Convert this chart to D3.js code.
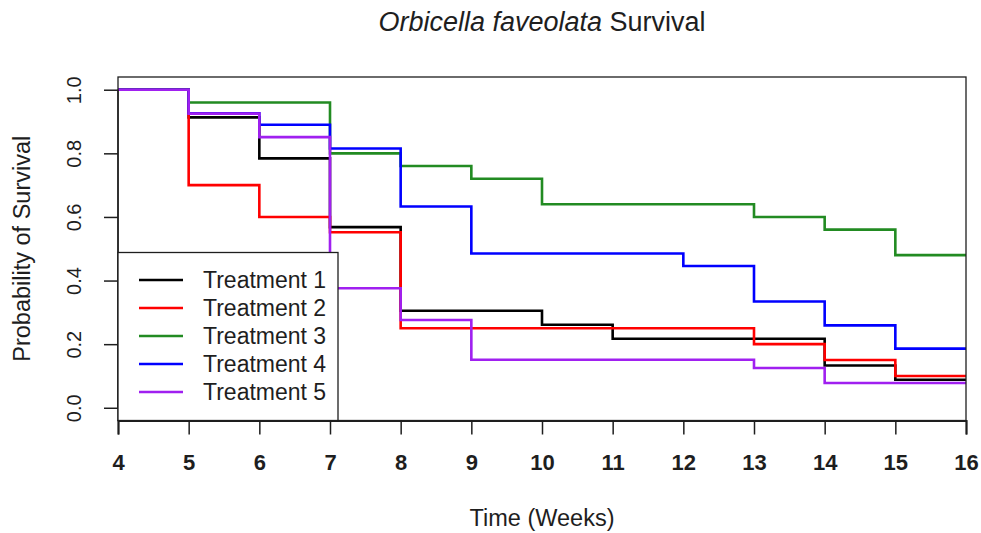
<!DOCTYPE html>
<html>
<head>
<meta charset="utf-8">
<script src="https://cdn.jsdelivr.net/npm/d3@7/dist/d3.min.js"></script>
<style>
  html, body { margin: 0; padding: 0; background: #fff; }
  svg { display: block; font-family: "Liberation Sans", Arial, Helvetica, sans-serif; }
</style>
</head>
<body>
<svg id="chart" width="981" height="533"></svg>
<script>
// Kaplan-Meier style survival estimates, one value per weekly interval (week 4 .. 15),
// the last value holds until week 16.
const weeks = [4, 5, 6, 7, 8, 9, 10, 11, 12, 13, 14, 15];
const endWeek = 16;

const treatment1 = [1.00, 0.913, 0.784, 0.568, 0.305, 0.305, 0.261, 0.217, 0.217, 0.217, 0.133, 0.088];
const treatment2 = [1.00, 0.700, 0.600, 0.552, 0.250, 0.250, 0.250, 0.250, 0.250, 0.200, 0.150, 0.100];
const treatment3 = [1.00, 0.960, 0.960, 0.800, 0.760, 0.720, 0.640, 0.640, 0.640, 0.600, 0.560, 0.480];
const treatment4 = [1.00, 0.926, 0.890, 0.815, 0.633, 0.485, 0.485, 0.485, 0.446, 0.334, 0.259, 0.186];
const treatment5 = [1.00, 0.925, 0.851, 0.376, 0.276, 0.151, 0.151, 0.151, 0.151, 0.125, 0.078, 0.078];

const seriesNames = ["Treatment 1", "Treatment 2", "Treatment 3", "Treatment 4", "Treatment 5"];
const seriesValues = [treatment1, treatment2, treatment3, treatment4, treatment5];
const seriesColors = ["#000000", "#ff0000", "#228b22", "#0000ff", "#a020f0"];

const xTicks = [4, 5, 6, 7, 8, 9, 10, 11, 12, 13, 14, 15, 16];
const yTicks = [0.0, 0.2, 0.4, 0.6, 0.8, 1.0];

const titleItalic = "Orbicella faveolata";
const titleRest = " Survival";
const xTitle = "Time (Weeks)";
const yTitle = "Probability of Survival";

// ---- layout ----
const svg = d3.select("#chart");
const plot = { left: 118, right: 966, top: 77, bottom: 420.5 };
const ink = "#1e1e1e";

const x = d3.scaleLinear().domain([4, 16]).range([plot.left, plot.right]);
const y = d3.scaleLinear().domain([-0.04, 1.04]).range([plot.bottom, plot.top]);

// survival curves
const line = d3.line()
  .x(d => x(d[0]))
  .y(d => y(d[1]))
  .curve(d3.curveStepAfter);

const curves = svg.append("g").attr("class", "curves");
seriesValues.forEach((vals, i) => {
  const pts = weeks.map((w, k) => [w, vals[k]]);
  pts.push([endWeek, vals[vals.length - 1]]);
  curves.append("path")
    .datum(pts)
    .attr("d", line)
    .attr("fill", "none")
    .attr("stroke", seriesColors[i])
    .attr("stroke-width", 2.6)
    .attr("stroke-linejoin", "miter")
    .attr("stroke-linecap", "butt");
});

// frame
svg.append("rect")
  .attr("x", plot.left).attr("y", plot.top)
  .attr("width", plot.right - plot.left)
  .attr("height", plot.bottom - plot.top)
  .attr("fill", "none")
  .attr("stroke", ink)
  .attr("stroke-width", 1.3);

// x axis
const xAxis = svg.append("g")
  .attr("transform", `translate(0,${plot.bottom})`)
  .call(d3.axisBottom(x).tickValues(xTicks).tickFormat(d3.format("d")).tickSize(14).tickPadding(20));
xAxis.select(".domain").attr("stroke", ink).attr("stroke-width", 2);
xAxis.selectAll(".tick line").attr("stroke", ink).attr("stroke-width", 1.5);
xAxis.selectAll(".tick text")
  .attr("fill", ink)
  .attr("font-size", 22)
  .attr("font-weight", "bold")
  .attr("font-family", "Liberation Sans, Arial, sans-serif");

// y axis
const yAxis = svg.append("g")
  .attr("transform", `translate(${plot.left},0)`)
  .call(d3.axisLeft(y).tickValues(yTicks).tickFormat(d3.format(".1f")).tickSize(14));
yAxis.select(".domain").remove();
yAxis.append("line")
  .attr("x1", 0).attr("x2", 0)
  .attr("y1", y(0)).attr("y2", y(1))
  .attr("stroke", ink).attr("stroke-width", 1.5);
yAxis.selectAll(".tick line").attr("stroke", ink).attr("stroke-width", 1.5);
yAxis.selectAll(".tick text")
  .attr("fill", ink)
  .attr("font-size", 20)
  .attr("font-family", "Liberation Sans, Arial, sans-serif")
  .attr("x", null).attr("dy", null)
  .attr("text-anchor", "middle")
  .attr("transform", "translate(-37,0) rotate(-90)");

// legend
const legend = svg.append("g").attr("class", "legend");
const lg = { x: plot.left, y: 252.5, w: 220, h: plot.bottom - 252.5 };
legend.append("rect")
  .attr("x", lg.x).attr("y", lg.y)
  .attr("width", lg.w).attr("height", lg.h)
  .attr("fill", "#fff")
  .attr("stroke", ink)
  .attr("stroke-width", 1.3);
const rowY = d3.scalePoint().domain(seriesNames).range([280, 392]);
seriesNames.forEach((name, i) => {
  const cy = rowY(name);
  legend.append("line")
    .attr("x1", 139).attr("x2", 183)
    .attr("y1", cy).attr("y2", cy)
    .attr("stroke", seriesColors[i])
    .attr("stroke-width", 2.6);
  legend.append("text")
    .attr("x", 203).attr("y", cy)
    .attr("dy", "0.35em")
    .attr("font-size", 23)
    .attr("fill", ink)
    .text(name);
});

// titles
const title = svg.append("text")
  .attr("x", (plot.left + plot.right) / 2)
  .attr("y", 31)
  .attr("text-anchor", "middle")
  .attr("font-size", 27)
  .attr("fill", ink);
title.append("tspan").attr("font-style", "italic").text(titleItalic);
title.append("tspan").text(titleRest);

svg.append("text")
  .attr("x", (plot.left + plot.right) / 2)
  .attr("y", 526)
  .attr("text-anchor", "middle")
  .attr("font-size", 23.5)
  .attr("fill", ink)
  .text(xTitle);

svg.append("text")
  .attr("transform", `translate(30,${(plot.top + plot.bottom) / 2}) rotate(-90)`)
  .attr("text-anchor", "middle")
  .attr("font-size", 23.5)
  .attr("fill", ink)
  .text(yTitle);
</script>
</body>
</html>
